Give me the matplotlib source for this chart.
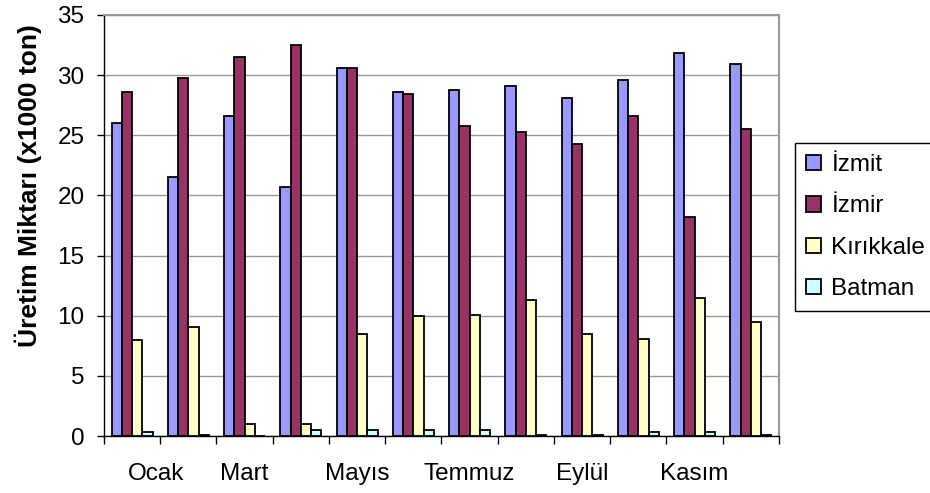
import matplotlib.pyplot as plt
import numpy as np
from matplotlib.transforms import ScaledTranslation

plt.rcParams['font.family'] = ['Liberation Sans', 'DejaVu Sans']

aylar = ['Ocak', 'Şubat', 'Mart', 'Nisan', 'Mayıs', 'Haziran',
         'Temmuz', 'Ağustos', 'Eylül', 'Ekim', 'Kasım', 'Aralık']
izmit = [26.0, 21.5, 26.6, 20.7, 30.6, 28.6, 28.8, 29.1, 28.1, 29.6, 31.8, 30.9]
izmir = [28.6, 29.8, 31.5, 32.5, 30.6, 28.4, 25.8, 25.3, 24.3, 26.6, 18.2, 25.5]
kirikkale = [8.0, 9.1, 1.0, 1.0, 8.5, 10.0, 10.1, 11.3, 8.5, 8.1, 11.5, 9.5]
batman = [0.3, 0.1, 0.0, 0.5, 0.5, 0.5, 0.5, 0.1, 0.1, 0.3, 0.3, 0.1]

seriler = ['İzmit', 'İzmir', 'Kırıkkale', 'Batman']
renkler = ['#9999FF', '#993366', '#FFFFCC', '#CCFFFF']

fig = plt.figure(figsize=(9.3, 4.93), dpi=100)
ax = fig.add_axes([0.1118, 0.1156, 0.7258, 0.854])

x = np.arange(len(aylar))
w = 0.182
for i, (vals, ad, renk) in enumerate(zip([izmit, izmir, kirikkale, batman], seriler, renkler)):
    ax.bar(x + (i - 1.5) * w, vals, w, color=renk, edgecolor='black',
           linewidth=1.3, label=ad, zorder=3)

ax.set_xlim(-0.5, len(aylar) - 0.5)
ax.set_ylim(0, 35)
ax.set_yticks(range(0, 36, 5))
ax.yaxis.grid(True, color='#999999', linewidth=1, zorder=0)

# kategori sinirlarinda tik, her iki ayda bir etiket
ax.set_xticks(np.arange(-0.5, len(aylar), 1))
ax.set_xticklabels([])
ax.set_xticks(x[::2], minor=True)
ax.set_xticklabels(aylar[::2], minor=True)
ax.tick_params(axis='x', which='major', length=6, width=1, direction='out')
ax.tick_params(axis='x', which='minor', length=0, labelsize=17.5, pad=19.5)
ax.tick_params(axis='y', length=5, width=1, labelsize=17.5, pad=9, direction='out')

# Excel ilk etiketi biraz saga kaydiriyor
lbl = ax.get_xticklabels(minor=True)[0]
lbl.set_transform(lbl.get_transform() + ScaledTranslation(0.24, 0, fig.dpi_scale_trans))

for s in ['top', 'right']:
    ax.spines[s].set_color('#999999')
    ax.spines[s].set_linewidth(1.5)
for s in ['left', 'bottom']:
    ax.spines[s].set_color('black')
    ax.spines[s].set_linewidth(1)

fig.text(28 / 930, 1 - 186 / 493, 'Üretim Miktarı (x1000 ton)', rotation=90,
         ha='center', va='center', fontsize=19, fontweight='bold')

leg = fig.legend(loc='upper left', bbox_to_anchor=(795 / 930, 1 - 143 / 493), fontsize=17.5,
                 handlelength=0.6, handleheight=0.6, handletextpad=0.45,
                 labelspacing=0.8, borderpad=0.45, borderaxespad=0, fancybox=False,
                 edgecolor='black', framealpha=1)
leg.get_frame().set_linewidth(1)

plt.savefig('out.png', dpi=100)
